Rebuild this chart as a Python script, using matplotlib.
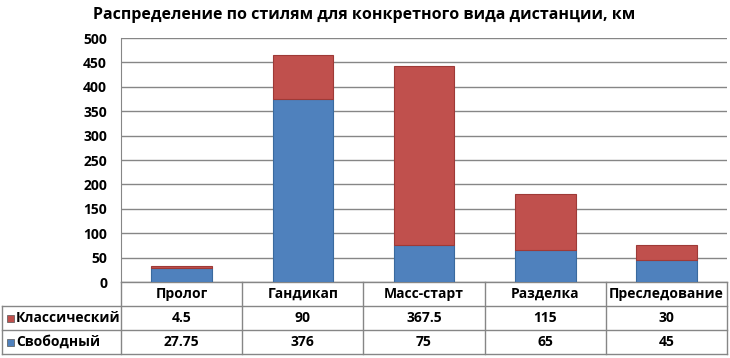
import matplotlib
matplotlib.use("Agg")
from matplotlib import pyplot as plt
from matplotlib.patches import Rectangle

categories = ['Пролог', 'Гандикап', 'Масс-старт', 'Разделка', 'Преследование']
classic = [4.5, 90, 367.5, 115, 30]
free = [27.75, 376, 75, 65, 45]
classic_lbl = ['4.5', '90', '367.5', '115', '30']
free_lbl = ['27.75', '376', '75', '65', '45']

plt.rcParams['font.family'] = ['Open Sans', 'DejaVu Sans']
plt.rcParams['font.weight'] = 'bold'

blue = '#4F81BD'
red = '#C0504D'
grid = '#868686'
fs = 10

fig = plt.figure(figsize=(7.3, 3.58), dpi=100)
ax = fig.add_axes([121 / 730, 1 - 282 / 358, 606 / 730, 244 / 358])

x = list(range(len(categories)))
ax.bar(x, free, width=0.5, color=blue, edgecolor='#3A6A9E', linewidth=0.8, zorder=3)
ax.bar(x, classic, bottom=free, width=0.5, color=red, edgecolor='#9E3A37', linewidth=0.8, zorder=3)

ax.set_xlim(-0.5, 4.5)
ax.set_ylim(0, 500)
ax.set_yticks(range(0, 501, 50))
ax.yaxis.grid(True, color=grid, linewidth=1, zorder=0)
ax.set_xticks([])
ax.tick_params(axis='y', length=0, pad=10, labelsize=fs)
for s in ['top', 'right', 'bottom']:
    ax.spines[s].set_visible(False)
ax.spines['left'].set_color(grid)

fig.text(0.499, 1 - 15 / 358, 'Распределение по стилям для конкретного вида дистанции, км',
         ha='center', va='center', fontsize=11.5, fontweight='bold')

# data table under the axis
tr = ax.get_xaxis_transform()
rh = 24 / 244
lc = dict(color=grid, linewidth=1, clip_on=False, transform=tr)
left = -0.5 - 121 / 606 * 5 + 2 / 606 * 5
for k in range(4):
    y = -k * rh
    x0 = -0.5 if k == 0 else left
    ax.plot([x0, 4.5], [y, y], **lc)
for b in [-0.5, 0.5, 1.5, 2.5, 3.5, 4.5]:
    ax.plot([b, b], [0, -3 * rh], **lc)
ax.plot([left, left], [-rh, -3 * rh], **lc)

for i, c in enumerate(categories):
    ax.text(i, -0.5 * rh, c, transform=tr, ha='center', va='center', fontsize=fs)
    ax.text(i, -1.5 * rh, classic_lbl[i], transform=tr, ha='center', va='center', fontsize=fs)
    ax.text(i, -2.5 * rh, free_lbl[i], transform=tr, ha='center', va='center', fontsize=fs)

sq = 7 / 606 * 5
for r, (name, col) in enumerate([('Классический', red), ('Свободный', blue)]):
    yc = -(r + 1.5) * rh
    ax.add_patch(Rectangle((left + 5 / 606 * 5, yc - 3.5 / 244), sq, 7 / 244, transform=tr,
                           facecolor=col, edgecolor='#555555', linewidth=0.5, clip_on=False))
    ax.text(left + 14 / 606 * 5, yc, name, transform=tr, ha='left', va='center', fontsize=fs)

fig.savefig('out.png', dpi=100)
